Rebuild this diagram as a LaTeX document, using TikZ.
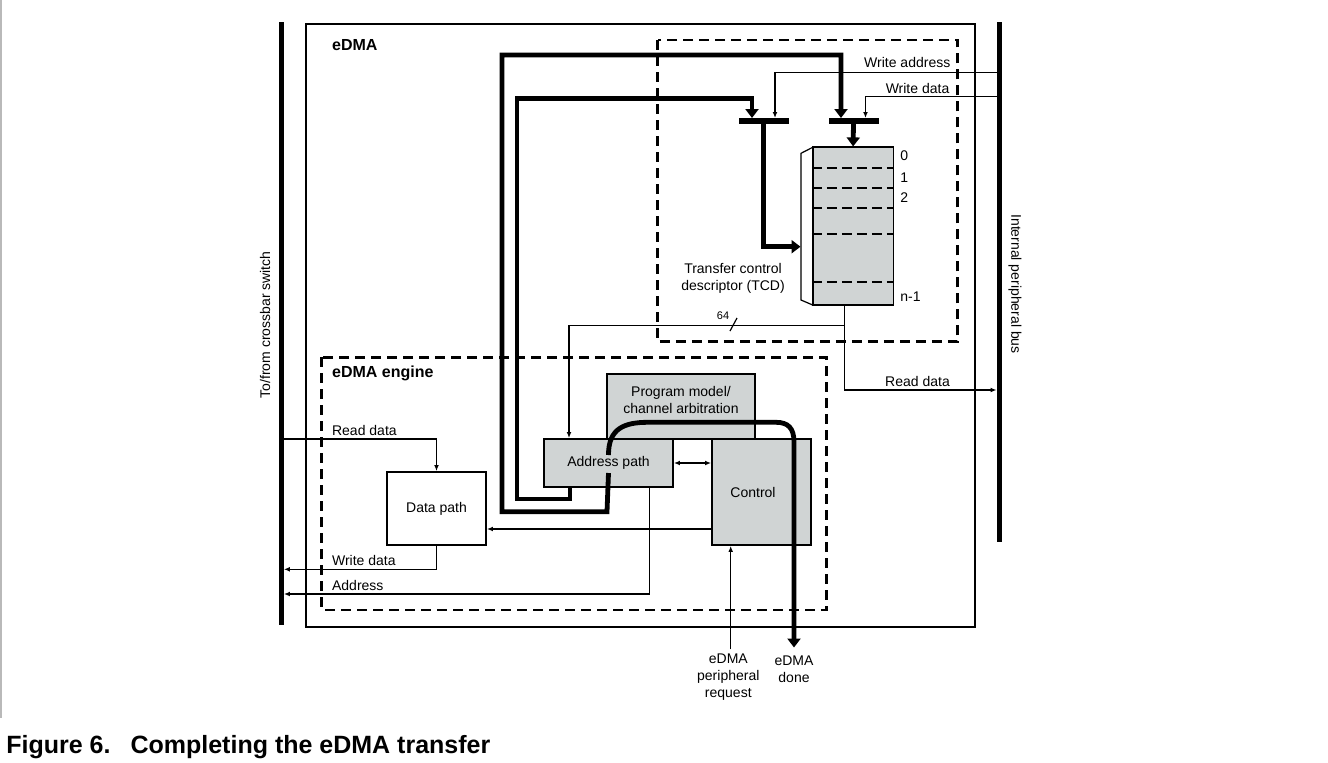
\documentclass[tikz,border=0pt]{standalone}
\usepackage{fontspec}
\setmainfont{Liberation Sans}
\usetikzlibrary{arrows.meta}
\definecolor{tcdgray}{RGB}{208,212,212}

\begin{document}
\begin{tikzpicture}[x=0.5pt,y=-0.5pt,
    lbl/.style={font=\fontsize{7}{8.5}\selectfont,inner sep=0pt},
    hdr/.style={font=\fontsize{8}{9}\selectfont\bfseries,inner sep=0pt,anchor=west},
    thinline/.style={line width=0.6pt},
    thinarrow/.style={thinline,-{Latex[length=3pt,width=2.4pt]}},
    twoarrow/.style={thinline,{Latex[length=3pt,width=2.4pt]}-{Latex[length=3pt,width=2.4pt]}},
    busline/.style={line width=2.4pt},
    busarrow/.style={busline,-{Triangle[length=4.5pt,width=6.5pt]}},
    dashbox/.style={line width=1.4pt,dash pattern=on 5pt off 3pt},
    rowdash/.style={line width=1pt,dash pattern=on 5pt off 2.5pt},
    greybox/.style={draw,line width=0.9pt,fill=tcdgray,inner sep=0pt,lbl},
    whitebox/.style={greybox,fill=white},
    busbar/.style={fill=black,inner sep=0pt,minimum width=2.5pt},
    muxbar/.style={fill=black,inner sep=0pt,minimum width=25pt,minimum height=2.6pt}]
  \useasboundingbox (0,0) rectangle (1328,762);
  \draw[gray!55,line width=0.8pt] (1,0) -- (1,718);

  % buses on both sides
  \node[busbar,minimum height=301.5pt] (xbar) at (281,323.5) {};
  \node[busbar,minimum height=260pt] (pbar) at (999.5,282) {};
  \node[lbl,rotate=90] at (265,325) {To/from crossbar switch};
  \node[lbl,rotate=-90] at (1015,284) {Internal peripheral bus};

  % frames
  \draw[line width=1.1pt] (306,24) rectangle (975,627);
  \draw[dashbox] (657.6,40) rectangle (957.6,341.7);
  \draw[dashbox] (321.7,357.3) rectangle (826.7,610);
  \node[hdr] at (331.7,45) {eDMA};
  \node[hdr] at (331.7,373.3) {eDMA engine};

  % TCD
  \draw[thinline,fill=white] (812.7,147.3) -- (801,153.3) -- (801,300) -- (812.7,305) -- cycle;
  \node[greybox,minimum width=40.4pt,minimum height=78.85pt] (tcd) at (853.1,226.15) {};
  \foreach \y in {168.3,188.3,208.3,234,282.3}
    \draw[rowdash] (tcd.west |- 0,\y) -- (tcd.east |- 0,\y);
  \foreach \y/\t in {156/0,178/1,198/2,297/n-1}
    \node[lbl,anchor=west] at (900,\y) {\t};
  \node[lbl,align=center] (tcdlbl) at (733,278.5) {Transfer control\\descriptor (TCD)};
  \coordinate (tcdside) at (800.5,246.7);
  \coordinate (tcdout) at ([xshift=-4.4pt]tcd.south);

  % write muxes
  \node[muxbar] (muxa) at (763.6,121) {};
  \node[muxbar] (muxb) at (853.5,121) {};
  \coordinate (wraddr) at (997,72.7);
  \coordinate (wrdata) at (997,96.7);
  \draw[thinarrow] (wraddr) -| ([xshift=5.7pt]muxa.north);
  \draw[thinarrow] (wrdata) -| ([xshift=6pt]muxb.north);
  \node[lbl,anchor=east] at (950.7,62.7) {Write address};
  \node[lbl,anchor=east] at (949.7,88) {Write data};
  \draw[busarrow] (muxa.south) |- (tcdside);
  \draw[busarrow] (muxb.south) -- (tcd.north);

  % engine blocks
  \node[greybox,minimum width=74pt,minimum height=32.5pt,
        label={[lbl,align=center,yshift=3.4pt]center:{Program model/\\channel arbitration}}] (progmodel) at (681,406.5) {};
  \node[greybox,minimum width=64.5pt,minimum height=24pt] (addrpath) at (608.5,463) {Address path};
  \node[greybox,minimum width=49.5pt,minimum height=53pt,
        label={[lbl,xshift=-4.25pt]center:Control}] (control) at (761.5,492) {};
  \node[whitebox,minimum width=49.5pt,minimum height=36.5pt] (datapath) at (436.5,508.5) {Data path};

  % TCD read-out
  \draw[thinarrow] (tcdout) |- (pbar.west |- 0,390);
  \node[lbl] at (917.5,381) {Read data};
  \draw[thinarrow] (tcdout |- 0,325.3) -| ([xshift=-19.75pt]addrpath.north);
  \draw[thinline] (730,331) -- (737,318);
  \node[font=\fontsize{5.5}{6}\selectfont,inner sep=0pt] at (723,316) {64};

  % crossbar side
  \draw[thinarrow] (xbar.east |- 0,439) -| (datapath.north);
  \node[lbl,anchor=west] at (331.7,430.7) {Read data};
  \draw[thinarrow] (control.west |- 0,529) -- (datapath.east |- 0,529);
  \draw[thinarrow] (datapath.south) |- (xbar.east |- 0,569.3);
  \node[lbl,anchor=west] at (331.7,560) {Write data};
  \draw[thinarrow] ([xshift=20.4pt]addrpath.south) |- (xbar.east |- 0,594);
  \node[lbl,anchor=west] at (331.7,585.7) {Address};
  \draw[twoarrow] (addrpath.east) -- (control.west |- addrpath.east);

  % address loops back to the muxes
  \draw[busarrow] ([xshift=-19.25pt]addrpath.south) -- (570,499) -- (517,499) -- (517,98.3)
        -| ([xshift=-5.8pt]muxa.north);
  \draw[busarrow] ([yshift=-5pt]addrpath.center) -- (607,511.7) -- (502,511.7) -- (502,55)
        -| ([xshift=-6.25pt]muxb.north);

  % request / done
  \node[lbl,align=center] (req) at (728.3,677) {eDMA\\peripheral\\request};
  \node[lbl,align=center,anchor=north] (done) at (794,655.5) {eDMA\\done};
  \coordinate (reqtop) at ([xshift=1.2pt,yshift=2pt]req.north);
  \draw[thinarrow] (reqtop) -- (reqtop |- control.south);
  \draw[busarrow] ([yshift=4pt]addrpath.center) .. controls (608.3,428) and (625,422.3) .. (648,422.3)
        -- (776,422.3) .. controls (788,422.3) and (794,428) .. (794,442)
        -- ([yshift=4pt]done.north);

  \node[anchor=west,inner sep=0pt,font=\fontsize{12.5}{14}\selectfont\bfseries] (caption) at (6,747)
        {Figure 6.\hspace{10pt}Completing the eDMA transfer};
\end{tikzpicture}
\end{document}
